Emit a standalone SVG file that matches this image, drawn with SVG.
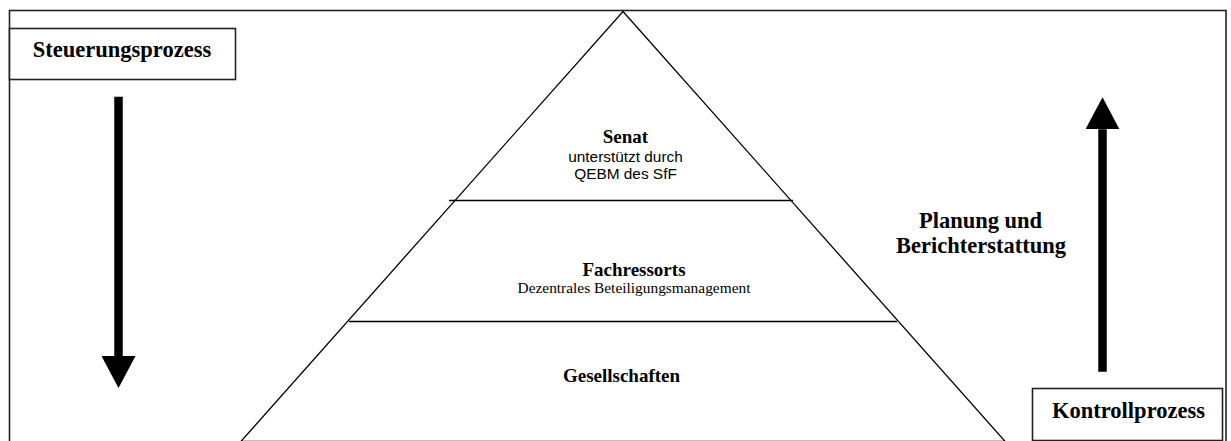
<svg xmlns="http://www.w3.org/2000/svg" width="1231" height="441" viewBox="0 0 1231 441">
<style>
.frame{fill:none;stroke:#222;stroke-width:1.6}
.box{fill:#fff;stroke:#222;stroke-width:1.6}
.edge{fill:none;stroke:#000;stroke-width:1.3}
.head{font-family:"Liberation Serif","Times New Roman",serif;font-weight:bold;font-size:22.5px;fill:#000;text-anchor:middle}
.lbl{font-family:"Liberation Serif","Times New Roman",serif;font-weight:bold;font-size:19px;fill:#000;text-anchor:middle}
.sub{font-family:"Liberation Sans",Arial,sans-serif;font-size:15.4px;fill:#000;text-anchor:middle}
.subs{font-family:"Liberation Serif","Times New Roman",serif;font-size:15.4px;fill:#000;text-anchor:middle}
.shaft{stroke:#000;stroke-width:8.5;fill:none}
</style>
<defs>
<marker id="ah" markerUnits="userSpaceOnUse" markerWidth="32" markerHeight="34" viewBox="0 0 32 34" refX="0" refY="17" orient="auto">
<path d="M0,0 L32,17 L0,34 z" fill="#000"/>
</marker>
</defs>
<rect id="frame" class="frame" x="9.5" y="10.5" width="1216.5" height="440"/>
<g id="pyramid">
<polygon class="edge" points="623,11.5 1005,441.3 241,441.3"/>
<line class="edge" x1="449" y1="200.5" x2="793" y2="200.5"/>
<line class="edge" x1="349" y1="321.5" x2="897" y2="321.5"/>
</g>
<g id="senat">
<text class="lbl" x="625.5" y="143">Senat</text>
<text class="sub" x="625.5" y="162">unterstützt durch</text>
<text class="sub" x="625.5" y="179">QEBM des SfF</text>
</g>
<g id="fachressorts">
<text class="lbl" x="634" y="276">Fachressorts</text>
<text class="subs" x="634" y="293">Dezentrales Beteiligungsmanagement</text>
</g>
<g id="gesellschaften">
<text class="lbl" x="621.5" y="382">Gesellschaften</text>
</g>
<g id="steuerungsprozess">
<rect class="box" x="9.5" y="28.5" width="226" height="51"/>
<text class="head" x="122" y="57">Steuerungsprozess</text>
</g>
<g id="kontrollprozess">
<rect class="box" x="1032.5" y="388.5" width="190" height="52"/>
<text class="head" x="1128.5" y="418">Kontrollprozess</text>
</g>
<g id="planung">
<text class="head" x="980.5" y="228">Planung und</text>
<text class="head" x="981" y="253">Berichterstattung</text>
</g>
<g id="connectors">
<line class="shaft" x1="118.5" y1="96.7" x2="118.5" y2="356" marker-end="url(#ah)"/>
<line class="shaft" x1="1102.5" y1="371.7" x2="1102.5" y2="129.3" marker-end="url(#ah)"/>
</g>
</svg>
